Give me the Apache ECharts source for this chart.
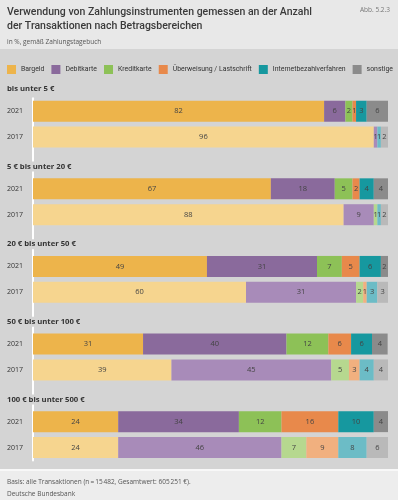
<!DOCTYPE html>
<html lang="de">
<head>
    <meta charset="UTF-8">
    <title>Zahlungsinstrumente nach Betragsbereichen</title>
    <style>
        html, body { margin: 0; padding: 0; background: #d4d4d4; }
        #chart { width: 398px; height: 500px; }
    </style>
</head>
<body>
<div id="chart"></div>

<script src="https://cdn.jsdelivr.net/npm/echarts@6/dist/echarts.min.js"></script>
<script>
    var instruments = ['Bargeld', 'Debitkarte', 'Kreditkarte', 'Überweisung / Lastschrift', 'Internetbezahlverfahren', 'sonstige'];
    var years = ['2021', '2017'];
    var ranges = ['bis unter 5 €', '5 € bis unter 20 €', '20 € bis unter 50 €', '50 € bis unter 100 €', '100 € bis unter 500 €'];

    // shares in %, one row per amount range, columns follow instruments
    var share2021 = [
        [82, 6, 2, 1, 3, 6],
        [67, 18, 5, 2, 4, 4],
        [49, 31, 7, 5, 6, 2],
        [31, 40.4, 11.8, 6.4, 5.9, 4.4],
        [24, 34, 12, 16, 10, 4]
    ];
    var share2017 = [
        [96, 1, 0, 0, 1, 2],
        [87.5, 8.5, 1, 0, 1, 2],
        [60, 31, 2, 1, 3, 3],
        [39, 45, 5, 3, 4, 4],
        [24, 46, 7, 9, 8, 6]
    ];

    var colors2021 = ['#edb44b', '#8a6a9c', '#8dc157', '#e8894b', '#16989f', '#8b8b8b'];
    var colors2017 = ['#f6d58f', '#a88bb9', '#b6d88f', '#f1b07f', '#6cbcc6', '#b9b9b9'];

    var chart = echarts.init(document.getElementById('chart'));
    var font = '"Open Sans", "Noto Sans", sans-serif';
    var narrow = 'Roboto, "Open Sans", sans-serif';

    // rows: 2021, 2017, spacer, 2021, 2017, spacer, ...
    var rowLabels = [];
    ranges.forEach(function (r, i) {
        rowLabels.push(years[0], years[1]);
        if (i < ranges.length - 1) rowLabels.push('');
    });

    var series = instruments.map(function (name, c) {
        var data = [];
        ranges.forEach(function (r, g) {
            data.push({ value: share2021[g][c] });
            data.push({ value: share2017[g][c], itemStyle: { color: colors2017[c] } });
            if (g < ranges.length - 1) data.push('-');
        });
        return {
            name: name,
            type: 'bar',
            stack: 'all',
            barWidth: 21,
            itemStyle: { color: colors2021[c] },
            label: {
                show: true,
                position: 'inside',
                fontSize: 7.5,
                fontFamily: font,
                color: '#444',
                formatter: function (p) {
                    var v = Math.round(p.value);
                    return v > 0 ? String(v) : '';
                }
            },
            emphasis: { disabled: true },
            data: data
        };
    });

    var rowStep = 77.6;
    var headers = ranges.map(function (r, g) {
        return {
            type: 'text',
            z: 10,
            left: 6,
            top: 84 + rowStep * g,
            style: {
                text: r,
                font: 'bold 7.7px ' + font,
                fill: '#333',
                backgroundColor: '#d4d4d4',
                padding: [1, 1]
            }
        };
    });

    var option = {
        backgroundColor: '#d4d4d4',
        animation: false,
        legend: {
            left: 7,
            top: 65,
            width: 391,
            padding: 0,
            itemWidth: 9,
            itemHeight: 9,
            itemGap: 7,
            icon: 'rect',
            selectedMode: false,
            textStyle: { fontSize: 6.9, fontFamily: narrow, color: '#333' },
            data: instruments
        },
        grid: {
            left: 33,
            right: 10,
            top: 98.3,
            height: rowStep / 3 * rowLabels.length
        },
        xAxis: {
            type: 'value',
            min: 0,
            max: 100,
            show: false
        },
        yAxis: {
            type: 'category',
            inverse: true,
            data: rowLabels,
            offset: 2,
            axisLine: { lineStyle: { color: '#ffffff', width: 2 } },
            axisTick: { show: false },
            axisLabel: { margin: 8, fontSize: 7, fontFamily: font, color: '#333' }
        },
        graphic: [
            { type: 'rect', shape: { x: 0, y: 0, width: 398, height: 49 }, style: { fill: '#e8e8e8' } },
            { type: 'rect', shape: { x: 0, y: 469, width: 398, height: 2 }, style: { fill: '#f8f8f8' } },
            { type: 'rect', shape: { x: 0, y: 471, width: 398, height: 29 }, style: { fill: '#ededed' } },
            {
                type: 'text', left: 7, top: 6,
                style: {
                    text: 'Verwendung von Zahlungsinstrumenten gemessen an der Anzahl\nder Transaktionen nach Betragsbereichen',
                    font: '500 10.5px ' + narrow, fill: '#3a3a3a', lineHeight: 13.5
                }
            },
            {
                type: 'text', right: 8, top: 7,
                style: { text: 'Abb. 5.2.3', font: '6.5px ' + font, fill: '#777' }
            },
            {
                type: 'text', left: 7, top: 38.5,
                style: { text: 'in %, gemäß Zahlungstagebuch', font: '6.5px ' + font, fill: '#555' }
            },
            {
                type: 'text', left: 7, top: 476,
                style: {
                    text: 'Basis: alle Transaktionen (n\u2009=\u200915\u202f482, Gesamtwert: 605\u202f251\u00a0€).\nDeutsche Bundesbank',
                    font: '6.5px ' + font, fill: '#555', lineHeight: 12
                }
            }
        ].concat(headers),
        series: series
    };

    chart.setOption(option);
</script>
</body>
</html>
